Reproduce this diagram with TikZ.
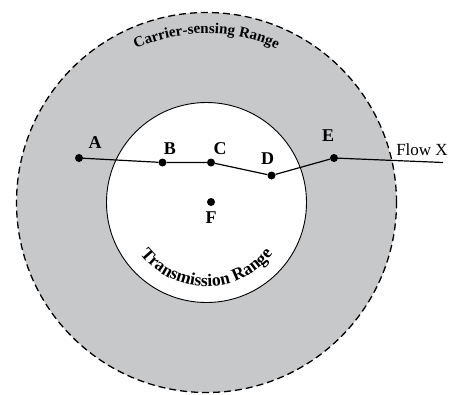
\documentclass[tikz,border=0pt]{standalone}
\usepackage{fontspec}
\setmainfont{Liberation Serif}
\usetikzlibrary{decorations.text}
\definecolor{rangegray}{RGB}{199,200,202}
\tikzset{
  fdot/.style={circle,fill=black,inner sep=0pt,minimum size=8pt},
  lbl/.style={font=\fontsize{18}{18}\selectfont\bfseries,inner sep=0pt},
  flowline/.style={line width=1.2pt},
}
\begin{document}
\begin{tikzpicture}[x=1pt,y=1pt]
\useasboundingbox (0,0) rectangle (457,-394);
\coordinate (O) at (206.5,-202.5);
% outer carrier-sensing range
\fill[rangegray] (O) circle[radius=190pt];
\draw[dashed,dash pattern=on 7pt off 4pt,line width=1.3pt] (O) circle[radius=190pt];
% inner transmission range
\filldraw[fill=white,draw=black,line width=0.9pt] (O) circle[radius=100pt];
% curved texts
\path[decorate,decoration={text along path,text align=center,
  text={|\fontsize{15}{15}\selectfont\bfseries|Carrier-sensing Range}}]
  (O) ++(150:169pt) arc[start angle=150,end angle=30,radius=169pt];
\path[decorate,decoration={text along path,text align=center,
  text={|\fontsize{17.5}{17.5}\selectfont\bfseries|Transmission Range}}]
  (O) ++(215:84pt) arc[start angle=215,end angle=325,radius=84pt];
% nodes
\node[fdot] (A) at (79,-158) {};
\node[fdot] (B) at (162.5,-162.5) {};
\node[fdot] (C) at (211,-162.5) {};
\node[fdot] (D) at (271.5,-175.5) {};
\node[fdot] (E) at (334,-158) {};
\node[fdot] (F) at (211,-202) {};
\coordinate (X) at (443,-162.5);
\draw[flowline] (A) -- (B) -- (C) -- (D) -- (E) -- (X);
% labels
\node[lbl] (lA) at (95,-143) {A};
\node[lbl] (lB) at (170,-148.5) {B};
\node[lbl] (lC) at (220,-148.5) {C};
\node[lbl] (lD) at (267.5,-158.5) {D};
\node[lbl] (lE) at (328,-136) {E};
\node[lbl] (lF) at (211,-218) {F};
\node[inner sep=0pt,font=\fontsize{17}{17}\selectfont] (lX) at (422,-150) {Flow X};
\end{tikzpicture}
\end{document}
